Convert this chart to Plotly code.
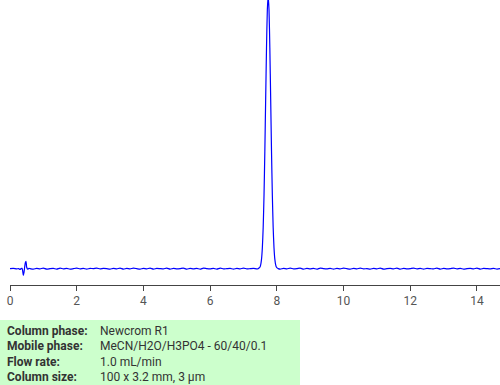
import plotly.graph_objects as go

# Chromatogram data (time in min, signal in arbitrary units)
disturb_t = [0.0, 0.1, 0.2, 0.26, 0.30, 0.33, 0.36, 0.38, 0.40, 0.42, 0.44, 0.46, 0.48, 0.50, 0.53, 0.57, 0.60]
disturb_y = [0, 1, -1, 0, -3, 0, 1, -8, -25, -14, 6, 22, 27, 5, -2, 1, 0]

base1_t = [0.7, 0.8, 0.9, 1.0, 1.1, 1.2, 1.3, 1.4, 1.5, 1.6, 1.7, 1.8, 1.9, 2.0, 2.1, 2.2, 2.3, 2.4,
           2.5, 2.6, 2.7, 2.8, 2.9, 3.0, 3.1, 3.2, 3.3, 3.4, 3.5, 3.6, 3.7, 3.8, 3.9, 4.0, 4.1, 4.2,
           4.3, 4.4, 4.5, 4.6, 4.7, 4.8, 4.9, 5.0, 5.1, 5.2, 5.3, 5.4, 5.5, 5.6, 5.7, 5.8, 5.9, 6.0,
           6.1, 6.2, 6.3, 6.4, 6.5, 6.6, 6.7, 6.8, 6.9, 7.0, 7.1, 7.2, 7.3, 7.4]
base1_y = [-2, 1, -1, 2, -2, 0, 1, -2, 2, -1, 1, -2, 0, 2, -1, 1, -2, 1,
           0, 2, -1, 1, 0, -2, 1, -1, 2, -2, 1, -1, 2, 0, -2, 1, -1, 2,
           -2, 1, 0, -1, 2, -2, 1, -1, 0, 2, -2, 1, -1, 1, -2, 2, 0, -1,
           1, -2, 2, -1, 0, 1, -2, 1, -1, 2, -1, 0, 1, -1]

peak_t = [7.44, 7.465, 7.49, 7.515, 7.54, 7.565, 7.59, 7.615, 7.64, 7.665, 7.69, 7.715, 7.74,
          7.765, 7.79, 7.815, 7.84, 7.865, 7.89, 7.915, 7.94, 7.965, 7.99, 8.015, 8.04]
peak_y = [0, 2, 5, 14, 34, 76, 150, 268, 430, 622, 810, 949, 1000,
          949, 810, 622, 430, 268, 150, 76, 34, 14, 5, 2, 0]

base2_t = [8.1, 8.2, 8.3, 8.4, 8.5, 8.6, 8.7, 8.8, 8.9, 9.0, 9.1, 9.2, 9.3, 9.4, 9.5, 9.6, 9.7, 9.8,
           9.9, 10.0, 10.1, 10.2, 10.3, 10.4, 10.5, 10.6, 10.7, 10.8, 10.9, 11.0, 11.1, 11.2, 11.3,
           11.4, 11.5, 11.6, 11.7, 11.8, 11.9, 12.0, 12.1, 12.2, 12.3, 12.4, 12.5, 12.6, 12.7, 12.8,
           12.9, 13.0, 13.1, 13.2, 13.3, 13.4, 13.5, 13.6, 13.7, 13.8, 13.9, 14.0, 14.1, 14.2, 14.3,
           14.4, 14.5, 14.6, 14.7]
base2_y = [-2, 1, -1, 2, -1, 0, 2, -2, 1, -1, 1, -2, 2, 0, -1, 1, -2, 1,
           -1, 2, 0, -2, 1, -1, 2, -1, 0, -2, 1, -1, 2, -2, 0,
           1, -1, 2, -2, 1, -1, 0, 2, -1, 1, -2, 1, 0, -1, 2,
           -2, 1, -1, 0, 2, -1, 1, -2, 0, 1, -1, 2, -2, 1, 0,
           -1, 1, -2, 0]

times = disturb_t + base1_t + peak_t + base2_t
signal = disturb_y + base1_y + peak_y + base2_y

tick_vals = [0, 2, 4, 6, 8, 10, 12, 14]
tick_text = ["0", "2", "4", "6", "8", "10", "12", "14"]

info_labels = ["Column phase:", "Mobile phase:", "Flow rate:", "Column size:"]
info_values = ["Newcrom R1", "MeCN/H2O/H3PO4 - 60/40/0.1", "1.0 mL/min", "100 x 3.2 mm, 3 µm"]

fig = go.Figure()
fig.add_trace(go.Scatter(x=times, y=signal, mode="lines",
                         line=dict(color="#0000ff", width=1.2, shape="spline", smoothing=0.6),
                         hoverinfo="skip", showlegend=False))

W, H = 500, 385
ml, mr, mt, mb = 10, 0, 0, 100
pw, ph = W - ml - mr, H - mt - mb

def px_x(p):
    return (p - ml) / pw

def px_y(p):
    return (H - mb - p) / ph

fig.update_layout(
    width=W, height=H,
    margin=dict(l=ml, r=mr, t=mt, b=mb),
    paper_bgcolor="white", plot_bgcolor="white",
    font=dict(family="Roboto", size=12, color="#444444"),
    xaxis=dict(range=[0, 14.69], tickvals=tick_vals, ticktext=tick_text,
               showline=True, linecolor="#444444", linewidth=1,
               ticks="outside", ticklen=5, tickcolor="#444444",
               showgrid=False, zeroline=False,
               tickfont=dict(family="Roboto", size=12, color="#555555")),
    yaxis=dict(range=[-60, 985], visible=False, showgrid=False, zeroline=False),
)

fig.add_shape(type="rect", xref="paper", yref="paper",
              x0=px_x(0), x1=px_x(300), y0=px_y(385), y1=px_y(320),
              fillcolor="#ccffcc", line=dict(width=0), layer="below")

row_y = [330.5, 346, 361.5, 377]
for lab, val, yy in zip(info_labels, info_values, row_y):
    fig.add_annotation(xref="paper", yref="paper", x=px_x(5), y=px_y(yy),
                       text="<b>" + lab + "</b>", showarrow=False,
                       xanchor="left", yanchor="middle",
                       font=dict(family="Roboto", size=12, color="#333333"))
    fig.add_annotation(xref="paper", yref="paper", x=px_x(98), y=px_y(yy),
                       text=val, showarrow=False,
                       xanchor="left", yanchor="middle",
                       font=dict(family="Roboto", size=12, color="#333333"))

fig.write_html("out.html")
